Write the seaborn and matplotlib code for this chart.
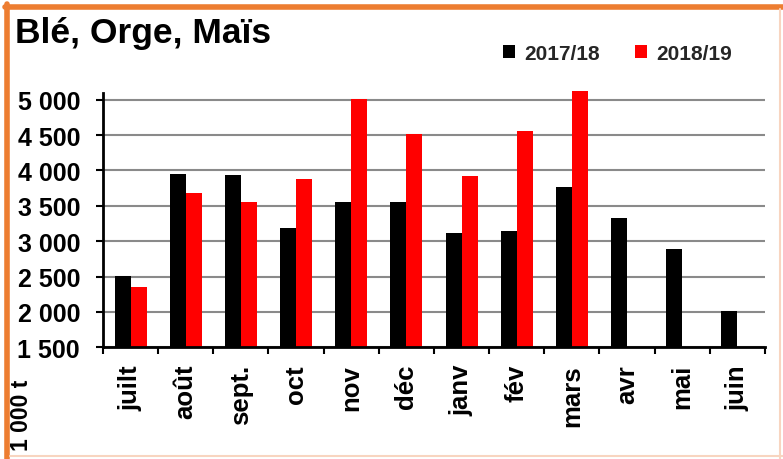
import pandas as pd
import numpy as np
import matplotlib
matplotlib.use("Agg")
import matplotlib.pyplot as plt
from matplotlib.lines import Line2D
import seaborn as sns

# data
mois = ['juilt', 'août', 'sept.', 'oct', 'nov', 'déc', 'janv', 'fév', 'mars', 'avr', 'mai', 'juin']
v_2017 = [2515, 3953, 3930, 3193, 3561, 3561, 3118, 3141, 3760, 3321, 2895, 2020]
v_2018 = [2350, 3685, 3548, 3878, 5010, 4514, 3928, 4564, 5120, np.nan, np.nan, np.nan]
campagnes = ['2017/18', '2018/19']
y_ticks = [1500, 2000, 2500, 3000, 3500, 4000, 4500, 5000]
y_labels = ['1 500', '2 000', '2 500', '3 000', '3 500', '4 000', '4 500', '5 000']

df = pd.DataFrame({
    'Mois': mois * 2,
    'Volume': v_2017 + v_2018,
    'Campagne': [campagnes[0]] * 12 + [campagnes[1]] * 12,
})

sns.set_theme(style="white")
plt.rcParams['font.family'] = ['Liberation Sans', 'DejaVu Sans']
plt.rcParams['font.weight'] = 'bold'

fig = plt.figure(figsize=(7.83, 4.6), dpi=100)
ax = fig.add_axes([0.1315, 0.2428, 0.977 - 0.1315, 0.5613])

sns.barplot(data=df, x='Mois', y='Volume', hue='Campagne', order=mois,
            hue_order=campagnes, palette=['#000000', '#ff0000'], saturation=1,
            width=0.58, linewidth=0, errorbar=None, ax=ax)

ax.set_ylim(1500, 5150)
ax.set_xlim(-0.5, 11.5)
ax.spines['left'].set_bounds(1500, 5100)
ax.set_yticks(y_ticks)
ax.set_yticklabels(y_labels, fontsize=18, fontweight='bold')
ax.set_xticks(range(12))
ax.set_xticklabels(mois, rotation=90, fontsize=18.5, fontweight='bold', va='top')
ax.set_xticks(np.arange(-0.5, 12, 1), minor=True)
ax.tick_params(axis='x', which='major', length=0, pad=12, colors='black')
ax.tick_params(axis='x', which='minor', length=5, width=1.5, color='black', direction='out', bottom=True)
ax.tick_params(axis='y', length=5, width=1.5, color='black', direction='out', left=True, pad=11.5, colors='black')
ax.set_xlabel('')
ax.set_ylabel('')

ax.yaxis.grid(True, color='#8a8a8a', linewidth=1.5)
ax.set_axisbelow(True)
for s in ['top', 'right']:
    ax.spines[s].set_visible(False)
for s in ['left', 'bottom']:
    ax.spines[s].set_color('black')
    ax.spines[s].set_linewidth(2)
    ax.spines[s].set_zorder(5)

# legende en haut a droite
handles, labels = ax.get_legend_handles_labels()
ax.legend(handles, labels, loc='lower left', bbox_to_anchor=(0.642, 1 - 64 / 460),
          bbox_transform=fig.transFigure, ncol=2, frameon=False,
          handlelength=0.6, handleheight=0.6, handletextpad=0.45,
          columnspacing=1.65, borderpad=0, borderaxespad=0,
          prop={'size': 15, 'weight': 'bold'})

# titre et unite
fig.text(15 / 783, 1 - 43 / 460, 'Blé, Orge, Maïs', fontsize=25.5, fontweight='bold',
         ha='left', va='baseline', color='black')
fig.text(22 / 783, 1 - 451 / 460, '1 000 t', fontsize=16.5, fontweight='bold',
         rotation=90, ha='center', va='bottom', color='black')

# cadre orange
fig.add_artist(Line2D([7.5 / 783, 7.5 / 783], [0, 1 - 5 / 460], color='#ed7d31',
                      linewidth=4, transform=fig.transFigure))
fig.add_artist(Line2D([5 / 783, 1], [1 - 7.5 / 460, 1 - 7.5 / 460], color='#ed7d31',
                      linewidth=4, transform=fig.transFigure))
fig.add_artist(Line2D([780 / 783, 780 / 783], [0, 1 - 10 / 460], color='#f8d5c0',
                      linewidth=1.5, transform=fig.transFigure))
fig.add_artist(Line2D([10 / 783, 1], [1 - 457 / 460, 1 - 457 / 460], color='#f8d5c0',
                      linewidth=1.5, transform=fig.transFigure))

fig.savefig('out.png', dpi=100)
